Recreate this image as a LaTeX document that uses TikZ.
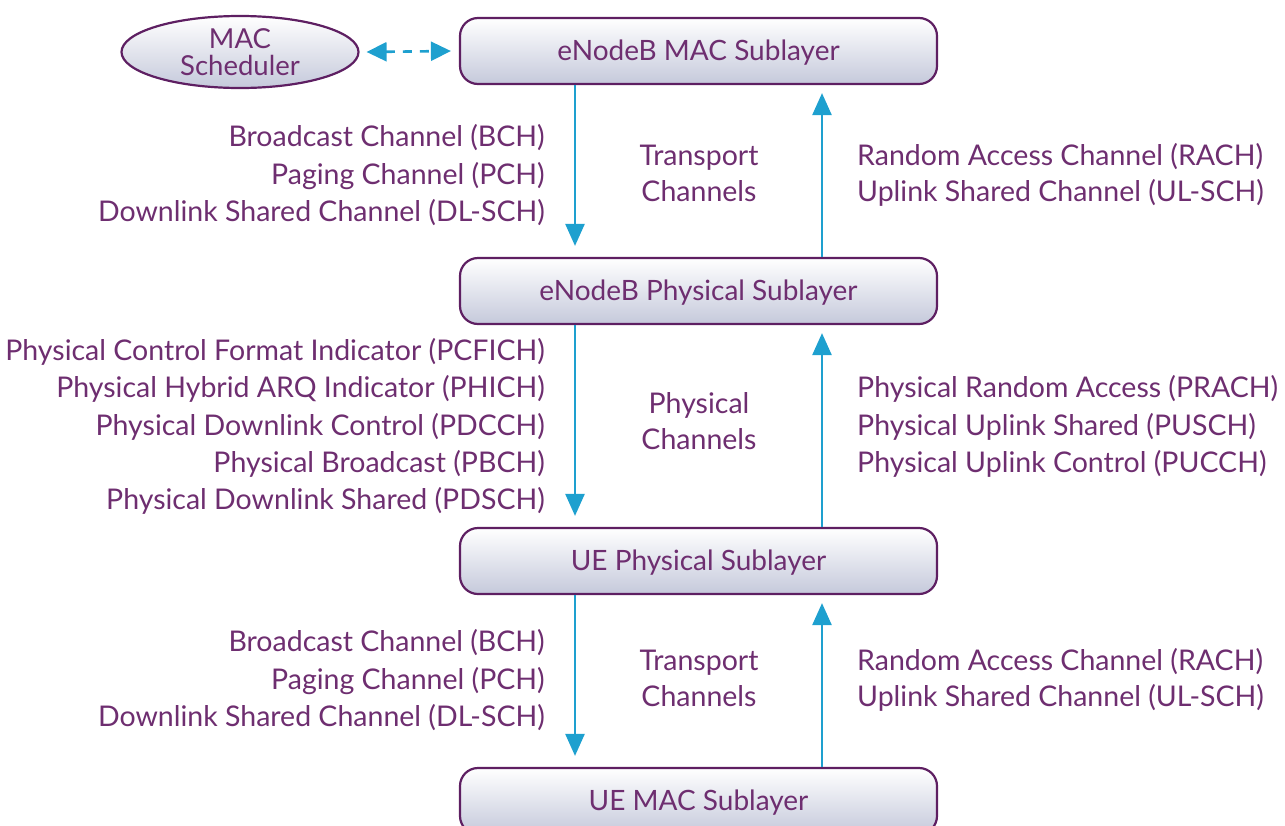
\documentclass[tikz,border=0pt]{standalone}
\usepackage{fontspec}
\setmainfont{Lato}
\usetikzlibrary{arrows.meta,shapes.geometric}
\definecolor{txt}{HTML}{6E2E70}
\definecolor{brd}{HTML}{5E1F62}
\definecolor{arr}{HTML}{1EA0CF}
\definecolor{gbot}{HTML}{C5C9DB}
\tikzset{
  layer/.style={draw=brd, line width=2.2pt, rounded corners=18pt, minimum width=477pt, minimum height=66pt, top color=white, bottom color=gbot, text=txt, font=\fontsize{28}{30}\selectfont, inner sep=0pt, text height=22pt, text depth=4pt},
  sched/.style={ellipse, draw=brd, line width=2.2pt, minimum width=237pt, minimum height=72pt, top color=white, bottom color=gbot, text=txt, font=\fontsize{27.5}{27}\selectfont, align=center, inner sep=0pt},
  lbl/.style={text=txt, font=\fontsize{28.5}{37.3}\selectfont, inner sep=0pt},
  flow/.style={draw=arr, line width=2.6pt, -{Triangle[length=22pt,width=19pt]}},
  dflow/.style={draw=arr, line width=2.6pt, dash pattern=on 9pt off 8pt, {Triangle[length=20pt,width=19pt]}-{Triangle[length=20pt,width=19pt]}}
}
\begin{document}
\begin{tikzpicture}[x=1pt,y=-1pt]
\useasboundingbox (0,0) rectangle (1285,825);
\node[layer] (mac) at (698.5,51) {eNodeB MAC Sublayer};
\node[layer] (phy) at (698.5,291) {eNodeB Physical Sublayer};
\node[layer] (uephy) at (698.5,561) {UE Physical Sublayer};
\node[layer] (uemac) at (698.5,801) {UE MAC Sublayer};
\node[sched] (sch) at (240,52) {MAC\\Scheduler};
\coordinate (d1) at ([xshift=7pt]sch.east);
\coordinate (d2) at ([xshift=-8pt]mac.west);
\draw[dflow] (d1) -- (d2);
% arrows
\coordinate (a1s) at (mac.south -| 575,0);
\coordinate (a1e) at ([yshift=11pt]phy.north -| 575,0);
\coordinate (b1s) at (phy.north -| 822,0);
\coordinate (b1e) at ([yshift=-8pt]mac.south -| 822,0);
\coordinate (a2s) at (phy.south -| 575,0);
\coordinate (a2e) at ([yshift=11pt]uephy.north -| 575,0);
\coordinate (b2s) at (uephy.north -| 822,0);
\coordinate (b2e) at ([yshift=-8pt]phy.south -| 822,0);
\coordinate (a3s) at (uephy.south -| 575,0);
\coordinate (a3e) at ([yshift=11pt]uemac.north -| 575,0);
\coordinate (b3s) at (uemac.north -| 822,0);
\coordinate (b3e) at ([yshift=-8pt]uephy.south -| 822,0);
\draw[flow] (a1s) -- (a1e);
\draw[flow] (b1s) -- (b1e);
\draw[flow] (a2s) -- (a2e);
\draw[flow] (b2s) -- (b2e);
\draw[flow] (a3s) -- (a3e);
\draw[flow] (b3s) -- (b3e);
% labels group 1
\node[lbl, anchor=base east] (l11) at (545,146) {Broadcast Channel (BCH)};
\node[lbl, anchor=base east] (l12) at (545,184) {Paging Channel (PCH)};
\node[lbl, anchor=base east] (l13) at (545,221) {Downlink Shared Channel (DL-SCH)};
\node[lbl, anchor=base] (m11) at (699,165) {Transport};
\node[lbl, anchor=base] (m12) at (699,201) {Channels};
\node[lbl, anchor=base west] (r11) at (857,165) {Random Access Channel (RACH)};
\node[lbl, anchor=base west] (r12) at (857,201) {Uplink Shared Channel (UL-SCH)};
% group 2
\node[lbl, anchor=base east] (l21) at (545,360) {Physical Control Format Indicator (PCFICH)};
\node[lbl, anchor=base east] (l22) at (545,397) {Physical Hybrid ARQ Indicator (PHICH)};
\node[lbl, anchor=base east] (l23) at (545,435) {Physical Downlink Control (PDCCH)};
\node[lbl, anchor=base east] (l24) at (545,472) {Physical Broadcast (PBCH)};
\node[lbl, anchor=base east] (l25) at (545,509) {Physical Downlink Shared (PDSCH)};
\node[lbl, anchor=base] (m21) at (699,413) {Physical};
\node[lbl, anchor=base] (m22) at (699,449) {Channels};
\node[lbl, anchor=base west] (r21) at (857,397) {Physical Random Access (PRACH)};
\node[lbl, anchor=base west] (r22) at (857,435) {Physical Uplink Shared (PUSCH)};
\node[lbl, anchor=base west] (r23) at (857,472) {Physical Uplink Control (PUCCH)};
% group 3
\node[lbl, anchor=base east] (l31) at (545,651) {Broadcast Channel (BCH)};
\node[lbl, anchor=base east] (l32) at (545,689) {Paging Channel (PCH)};
\node[lbl, anchor=base east] (l33) at (545,726) {Downlink Shared Channel (DL-SCH)};
\node[lbl, anchor=base] (m31) at (699,670) {Transport};
\node[lbl, anchor=base] (m32) at (699,706) {Channels};
\node[lbl, anchor=base west] (r31) at (857,670) {Random Access Channel (RACH)};
\node[lbl, anchor=base west] (r32) at (857,706) {Uplink Shared Channel (UL-SCH)};
\end{tikzpicture}
\end{document}
